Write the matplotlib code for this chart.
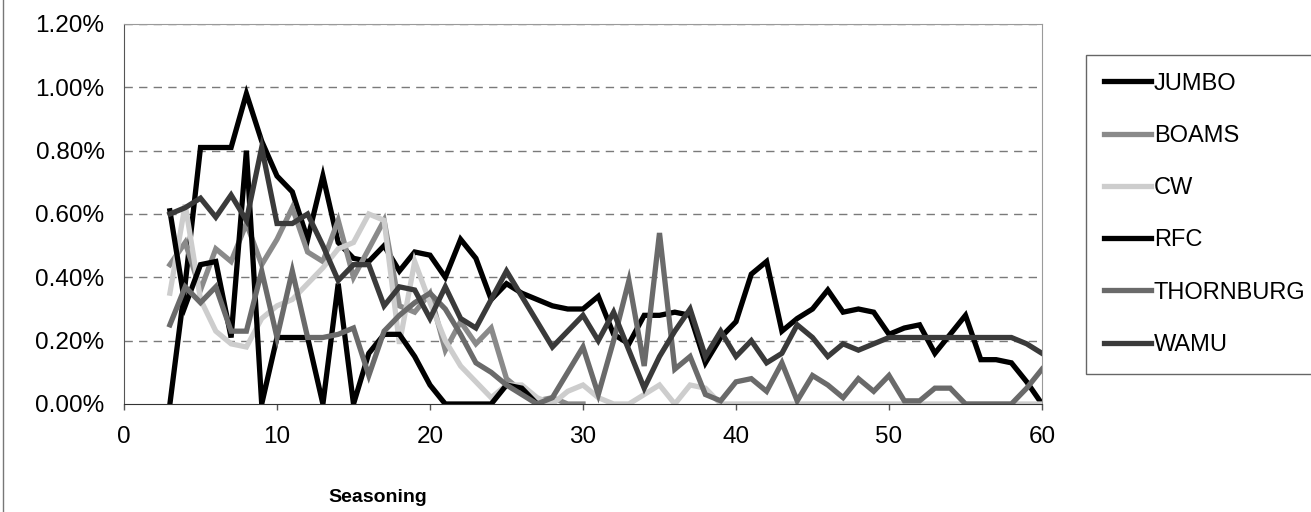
import numpy as np
import matplotlib.pyplot as plt
from matplotlib.lines import Line2D
from matplotlib.ticker import FuncFormatter

plt.rcParams['font.family'] = ['Liberation Sans', 'DejaVu Sans']
fs = 17

# seasoning months 3..60
months = list(range(3, 61))
nan = np.nan

# default rates in percent
jumbo = [0.00, 0.38, 0.81, 0.81, 0.81, 0.98, 0.83, 0.72, 0.67, 0.52,
         0.72, 0.51, 0.46, 0.45, 0.50, 0.42, 0.48, 0.47, 0.40, 0.52,
         0.46, 0.33, 0.38, 0.35, 0.33, 0.31, 0.30, 0.30, 0.34, 0.22,
         0.19, 0.28, 0.28, 0.29, 0.28, 0.13, 0.21, 0.26, 0.41, 0.45,
         0.23, 0.27, 0.30, 0.36, 0.29, 0.30, 0.29, 0.22, 0.24, 0.25,
         0.16, 0.22, 0.28, 0.14, 0.14, 0.13, 0.07, 0.00]
boams = [0.44, 0.51, 0.36, 0.49, 0.45, 0.57, 0.44, 0.52, 0.62, 0.48,
         0.45, 0.58, 0.40, 0.49, 0.58, 0.31, 0.29, 0.35, 0.17, 0.26,
         0.19, 0.24, 0.08, 0.04, 0.01, 0.02, 0.00, 0.00, nan, nan,
         nan, nan, nan, nan, nan, nan, nan, nan, nan, nan,
         nan, nan, nan, nan, nan, nan, nan, nan, nan, nan,
         nan, nan, nan, nan, nan, nan, nan, nan]
cw = [0.35, 0.63, 0.33, 0.23, 0.19, 0.18, 0.27, 0.31, 0.33, 0.38,
      0.43, 0.49, 0.51, 0.60, 0.58, 0.19, 0.45, 0.32, 0.20, 0.12,
      0.07, 0.02, 0.06, 0.06, 0.02, 0.00, 0.04, 0.06, 0.02, 0.00,
      0.00, 0.03, 0.06, 0.00, 0.06, 0.05, 0.00, 0.00, 0.00, 0.00,
      0.00, 0.00, 0.00, 0.00, 0.00, 0.00, 0.00, 0.00, 0.00, 0.00,
      0.00, 0.00, 0.00, 0.00, 0.00, 0.00, 0.00, 0.00]
rfc = [0.61, 0.31, 0.44, 0.45, 0.21, 0.80, 0.00, 0.21, 0.21, 0.21,
       0.00, 0.38, 0.00, 0.16, 0.22, 0.22, 0.15, 0.06, 0.00, 0.00,
       0.00, 0.00, 0.06, 0.05, 0.00, nan, nan, nan, nan, nan,
       nan, nan, nan, nan, nan, nan, nan, nan, nan, nan,
       nan, nan, nan, nan, nan, nan, nan, nan, nan, nan,
       nan, nan, nan, nan, nan, nan, nan, nan]
thornburg = [0.25, 0.37, 0.32, 0.37, 0.23, 0.23, 0.42, 0.21, 0.42, 0.21,
             0.21, 0.22, 0.24, 0.09, 0.23, 0.28, 0.32, 0.35, 0.30, 0.22,
             0.13, 0.10, 0.06, 0.03, 0.00, 0.02, 0.10, 0.18, 0.03, 0.20,
             0.39, 0.12, 0.54, 0.11, 0.15, 0.03, 0.01, 0.07, 0.08, 0.04,
             0.13, 0.01, 0.09, 0.06, 0.02, 0.08, 0.04, 0.09, 0.01, 0.01,
             0.05, 0.05, 0.00, 0.00, 0.00, 0.00, 0.05, 0.11]
wamu = [0.60, 0.62, 0.65, 0.59, 0.66, 0.58, 0.81, 0.57, 0.57, 0.60,
        0.50, 0.39, 0.44, 0.44, 0.31, 0.37, 0.36, 0.27, 0.37, 0.27,
        0.24, 0.33, 0.42, 0.34, 0.26, 0.18, 0.23, 0.28, 0.20, 0.29,
        0.17, 0.05, 0.15, 0.23, 0.30, 0.15, 0.23, 0.15, 0.20, 0.13,
        0.16, 0.25, 0.21, 0.15, 0.19, 0.17, 0.19, 0.21, 0.21, 0.21,
        0.21, 0.21, 0.21, 0.21, 0.21, 0.21, 0.19, 0.16]

names = ['JUMBO', 'BOAMS', 'CW', 'RFC', 'THORNBURG', 'WAMU']
series = [jumbo, boams, cw, rfc, thornburg, wamu]
colors = ['#000000', '#8a8a8a', '#cdcdcd', '#000000', '#6a6a6a', '#3a3a3a']

W, H = 1311, 512
fig = plt.figure(figsize=(W / 100, H / 100), dpi=100)
ax = fig.add_axes([124 / W, 1 - 404 / H, (1042 - 124) / W, (404 - 24) / H])

for name, vals, c in zip(names, series, colors):
    ax.plot(months, vals, color=c, lw=3.8, label=name, solid_joinstyle='miter')

ax.set_xlim(0, 60)
ax.set_ylim(0, 1.2)
ax.set_xticks(range(0, 61, 10))
ax.set_yticks(np.arange(0, 1.21, 0.2))
ax.yaxis.set_major_formatter(FuncFormatter(lambda v, p: '%.2f%%' % v))

for y in np.arange(0.2, 1.21, 0.2):
    ax.axhline(y, color='#7a7a7a', lw=1, dashes=(6, 4.5), zorder=0)

ax.tick_params(axis='y', length=0, pad=14, labelsize=17.5)
ax.tick_params(axis='x', length=4, width=1, pad=12, labelsize=17.5, color='#555555')
for s in ['top', 'right']:
    ax.spines[s].set_color('#9a9a9a')
ax.spines['left'].set_color('#555555')
ax.spines['bottom'].set_color('#333333')

fig.text(378 / W, 1 - 498 / H, 'Seasoning', ha='center', va='center',
         fontsize=14, fontweight='bold')

leg = fig.legend(loc='upper left', bbox_to_anchor=(1086 / W, 1 - 55 / H),
                 borderaxespad=0, fontsize=fs, handlelength=2.0,
                 handletextpad=0.12, labelspacing=1.28, borderpad=0.75,
                 fancybox=False, edgecolor='#666666', framealpha=1)
leg.get_frame().set_linewidth(1.0)

# outer chart border (left edge visible)
fig.add_artist(Line2D([2.5 / W, 2.5 / W], [0, 1], color='#777777', lw=1))

fig.savefig('out.png', dpi=100)
